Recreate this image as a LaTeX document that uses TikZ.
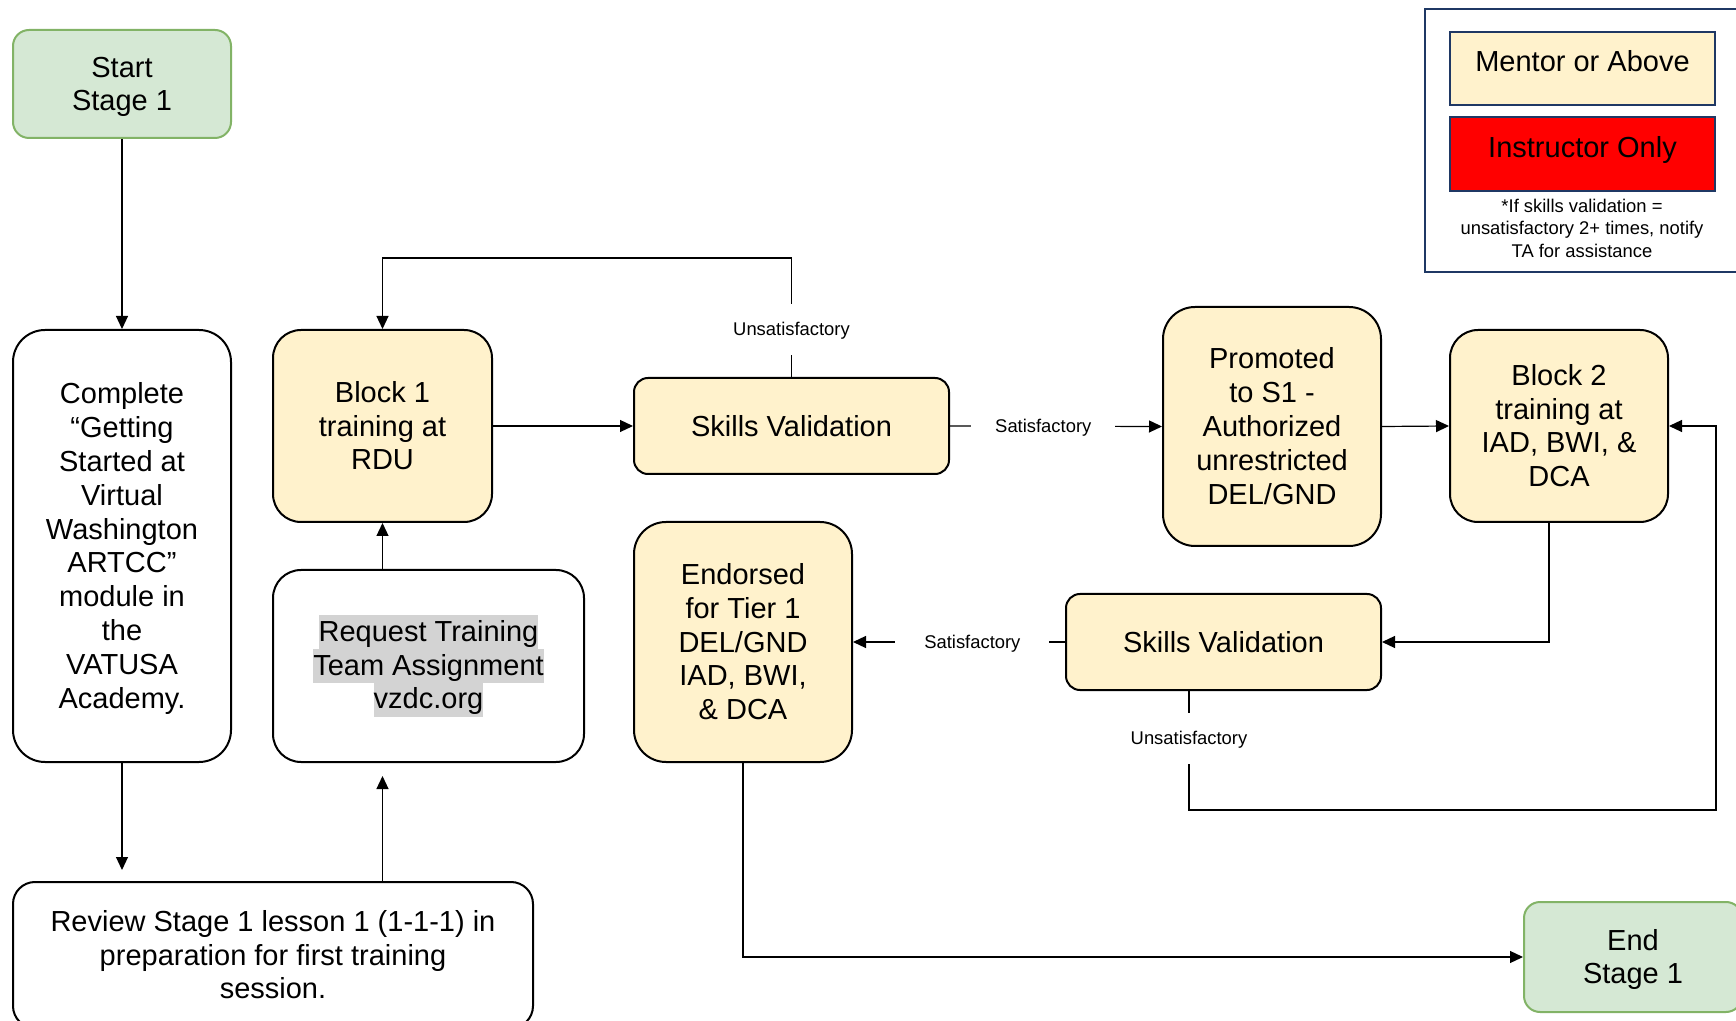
\documentclass[tikz,border=0pt]{standalone}
\usepackage{fontspec}
\setmainfont{Liberation Sans}
\usetikzlibrary{arrows.meta}
\definecolor{yel}{HTML}{FFF2CC}
\definecolor{gfill}{HTML}{D5E8D4}
\definecolor{gborder}{HTML}{82B366}
\definecolor{navy}{HTML}{1F3864}
\definecolor{hlgray}{HTML}{D3D3D3}
\newcommand\mainsz{\fontsize{14.5}{16.9}\selectfont}
\newcommand\smallsz{\fontsize{9.2}{11.25}\selectfont}
\newcommand\tops{\rule{0pt}{13.12pt}}
\newcommand\stops{\rule{0pt}{8.33pt}}
\newcommand\hlt[1]{{\setlength\fboxsep{0pt}\colorbox{hlgray}{\rule[-3.9pt]{0pt}{16.9pt}#1}}}
\begin{document}
\begin{tikzpicture}[x=0.5pt,y=-0.5pt,
  box/.style={draw, line width=1pt, align=center, font=\mainsz, inner sep=2pt,
    execute at end node={\rule[-3.07pt]{0pt}{0pt}}},
  greenbox/.style={box, draw=gborder, fill=gfill},
  yelbox/.style={box, fill=yel},
  legbox/.style={box, draw=navy, minimum width=132.5pt,
    execute at end node={\rule[-10pt]{0pt}{0pt}}},
  lbl/.style={fill=white, font=\smallsz, inner xsep=12pt, inner ysep=7.5pt,
    execute at end node={\rule[-1.95pt]{0pt}{0pt}}},
  conn/.style={line width=0.6pt},
  arr/.style={line width=0.6pt, -{Triangle[length=6.5pt,width=6pt]}}]
\useasboundingbox (0,0) rectangle (1736,1021);
\clip (0,0) rectangle (1736,1021);

% nodes
\node[greenbox, rounded corners=8pt, minimum width=109pt, minimum height=54pt] (start) at (122,84) {\tops Start\\Stage 1};
\node[box, rounded corners=16pt, minimum width=109pt, minimum height=216pt] (complete) at (122,546)
  {\tops Complete\\``Getting\\Started at\\Virtual\\Washington\\ARTCC''\\module in\\the\\VATUSA\\Academy.};
\node[box, rounded corners=11pt, minimum width=260pt, minimum height=73pt] (review) at (273,955)
  {\tops Review Stage 1 lesson 1 (1-1-1) in\\preparation for first training\\session.};
\node[box, rounded corners=14pt, minimum width=155.5pt, minimum height=96pt] (request) at (428.5,666)
  {\hlt{Request Training}\\\hlt{Team Assignment}\\\hlt{vzdc.org}};
\node[yelbox, rounded corners=14pt, minimum width=109.5pt, minimum height=96pt] (block1) at (382.5,426)
  {\tops Block 1\\training at\\RDU};
\node[yelbox, rounded corners=7pt, minimum width=157.5pt, minimum height=48pt] (sv1) at (791.5,426)
  {\tops Skills Validation};
\node[yelbox, rounded corners=16pt, minimum width=109pt, minimum height=119.5pt] (promoted) at (1272,426.5)
  {\tops Promoted\\to S1 -\\Authorized\\unrestricted\\DEL/GND};
\node[yelbox, rounded corners=14pt, minimum width=109pt, minimum height=96pt] (block2) at (1559,426)
  {\tops Block 2\\training at\\IAD, BWI, \&\\DCA};
\node[yelbox, rounded corners=7pt, minimum width=157.5pt, minimum height=48pt] (sv2) at (1223.5,642)
  {\tops Skills Validation};
\node[yelbox, rounded corners=16pt, minimum width=109pt, minimum height=120pt] (endorsed) at (743,642)
  {\tops Endorsed\\for Tier 1\\DEL/GND\\IAD, BWI,\\\& DCA};
\node[greenbox, rounded corners=8pt, minimum width=109pt, minimum height=55pt] (end) at (1633,957)
  {\tops End\\Stage 1};

% legend
\node[draw=navy, line width=1.2pt, minimum width=160pt, minimum height=131.5pt] (legend) at (1585,140.5) {};
\node[legbox, fill=yel, minimum height=36.5pt] (mentor) at (1582.5,68.5) {\tops Mentor or Above};
\node[legbox, fill=red, minimum height=37pt] (instr) at (1582.5,154) {\tops Instructor Only};
\node[align=center, font=\smallsz, inner sep=0pt] (note) at (1582,228)
  {*If skills validation =\\unsatisfactory 2+ times, notify\\TA for assistance};

% coordinates
\coordinate (loop1) at (791.5,258);
\coordinate (b2x) at (1549,642);
\coordinate (u2b) at (1189,810);
\coordinate (u2c) at (1716,810);

% connectors
\draw[arr] (start) -- (complete);
\draw[arr, shorten >=5.5pt] (complete.south) -- (complete.south |- review.north);
\draw[arr, shorten >=6.5pt] (review.north -| block1.south) -- (request.south -| block1.south);
\draw[arr] (request.north -| block1.south) -- (block1.south);
\draw[arr] (block1.east) -- (sv1.west);
\draw[arr] (sv1.north) -- node[lbl, pos=0.4, inner xsep=2pt] (u1) {\stops Unsatisfactory} (loop1) -| (block1.north);
\draw[arr] (sv1.east) -- node[lbl, pos=0.44] (s1) {\stops Satisfactory} (promoted.west);
\draw[arr] (promoted.east) -- (block2.west);
\draw[arr] (block2.south -| b2x) -- (b2x) -- (sv2.east);
\draw[arr] (sv2.west) -- node[lbl, pos=0.437, inner xsep=14.5pt] (s2) {\stops Satisfactory} (endorsed.east);
\draw[arr] (sv2.south -| u2b) -- node[lbl, pos=0.4, inner xsep=2pt] (u2) {\stops Unsatisfactory} (u2b) -- (u2c) |- (block2.east);
\draw[arr] (endorsed.south) |- (end.west);
\end{tikzpicture}
\end{document}
